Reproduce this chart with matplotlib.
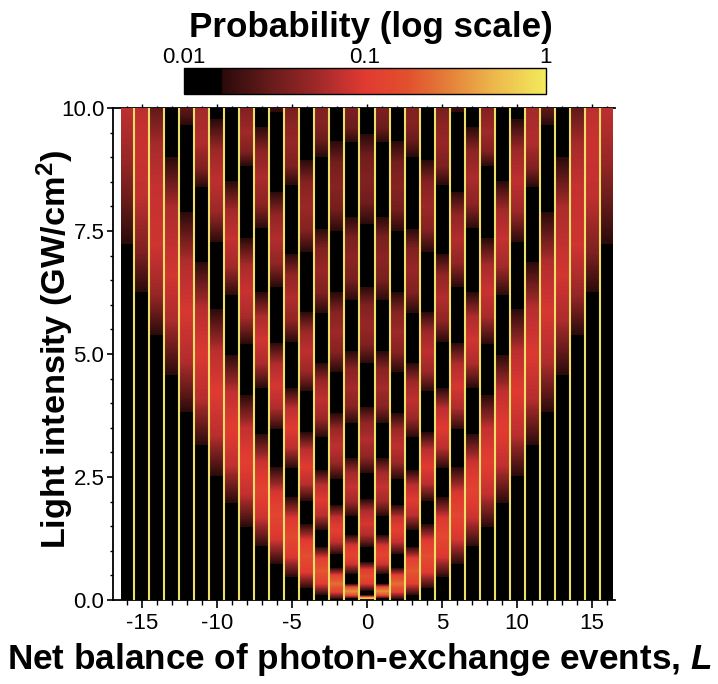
import numpy as np
import matplotlib
matplotlib.use("Agg")
import matplotlib.pyplot as plt
from matplotlib.cm import ScalarMappable
from matplotlib.colors import LinearSegmentedColormap, LogNorm, Normalize

plt.rcParams['font.family'] = ['Liberation Sans', 'DejaVu Sans']
plt.rcParams['axes.unicode_minus'] = False
plt.rcParams['mathtext.fontset'] = 'custom'
plt.rcParams['mathtext.rm'] = 'Liberation Sans'
plt.rcParams['mathtext.bf'] = 'Liberation Sans:bold'
plt.rcParams['mathtext.bfit'] = 'Liberation Sans:italic:bold'

# values: for each |L|, intensity (GW/cm2) and log10(probability)
I_0 = [0, .05, .10, .19, .33, .48, .62, .77, 1.08, 1.32, 1.56, 1.81, 2.05, 2.58, 2.92, 3.26, 3.60, 3.94,
       4.80, 5.20, 5.59, 5.98, 6.38, 7.62, 8.09, 8.56, 9.02, 9.49, 10]
P_0 = [-.02, -.35, -1.8, -1.8, -1.0, -.8, -1.0, -1.8, -1.8, -1.2, -1.05, -1.2, -1.8, -1.8, -1.32, -1.2, -1.32, -1.8,
       -1.8, -1.4, -1.3, -1.4, -1.8, -1.8, -1.48, -1.4, -1.48, -1.8, -1.8]
I_1 = [0, .03, .105, .18, .255, .33, .53, .73, .92, 1.12, 1.32, 1.71, 2.0, 2.3, 2.6, 2.89, 3.58, 3.95, 4.32, 4.69, 5.06,
       6.08, 6.51, 6.94, 7.37, 7.80, 9.29, 9.6, 10]
P_1 = [-1.8, -1.8, -.74, -.47, -.74, -1.8, -1.8, -1.08, -.9, -1.08, -1.8, -1.8, -1.26, -1.12, -1.26, -1.8, -1.8, -1.36, -1.25, -1.36, -1.8,
       -1.8, -1.44, -1.35, -1.44, -1.8, -1.8, -1.5, -1.42]
I_2 = [0, .02, .18, .33, .49, .65, .93, 1.18, 1.43, 1.68, 1.93, 2.46, 2.80, 3.13, 3.46, 3.80,
       4.63, 5.04, 5.44, 5.85, 6.26, 7.48, 7.95, 8.41, 8.88, 9.35, 10]
P_2 = [-1.8, -1.8, -.86, -.62, -.86, -1.8, -1.8, -1.12, -.95, -1.12, -1.8, -1.8, -1.28, -1.15, -1.28, -1.8,
       -1.8, -1.38, -1.27, -1.38, -1.8, -1.8, -1.46, -1.37, -1.46, -1.8, -1.8]
I_3 = [0, .10, .34, .59, .84, 1.08, 1.42, 1.72, 2.03, 2.34, 2.64, 3.31, 3.69, 4.06, 4.44, 4.82,
       5.83, 6.26, 6.70, 7.13, 7.56, 9.0, 9.35, 9.7, 10]
P_3 = [-1.8, -1.8, -.94, -.72, -.94, -1.8, -1.8, -1.16, -1.0, -1.16, -1.8, -1.8, -1.28, -1.15, -1.28, -1.8,
       -1.8, -1.4, -1.3, -1.4, -1.8, -1.8, -1.5, -1.38, -1.4]
I_4 = [0, .24, .56, .89, 1.22, 1.54, 2.01, 2.36, 2.71, 3.06, 3.41, 4.23, 4.64, 5.05, 5.46, 5.87,
       7.07, 7.54, 8.01, 8.49, 8.96, 10]
P_4 = [-1.8, -1.8, -1.0, -.8, -1.0, -1.8, -1.8, -1.16, -1.0, -1.16, -1.8, -1.8, -1.28, -1.15, -1.28, -1.8,
       -1.8, -1.38, -1.28, -1.38, -1.8, -1.8]
I_5 = [0, .47, .87, 1.28, 1.68, 2.09, 2.68, 3.09, 3.50, 3.90, 4.31, 5.24, 5.69, 6.14, 6.60, 7.05,
       8.43, 8.82, 9.3, 9.7, 10]
P_5 = [-1.8, -1.8, -1.04, -.85, -1.04, -1.8, -1.8, -1.16, -1.0, -1.16, -1.8, -1.8, -1.32, -1.2, -1.32, -1.8,
       -1.8, -1.42, -1.3, -1.36, -1.45]
I_6 = [0, .73, 1.22, 1.72, 2.21, 2.70, 3.46, 3.90, 4.35, 4.80, 5.24, 6.36, 6.85, 7.34, 7.82, 8.31, 9.90, 10]
P_6 = [-1.8, -1.8, -1.06, -.88, -1.06, -1.8, -1.8, -1.2, -1.05, -1.2, -1.8, -1.8, -1.32, -1.2, -1.32, -1.8, -1.8, -1.7]
I_7 = [0, 1.08, 1.66, 2.24, 2.81, 3.39, 4.31, 4.80, 5.28, 5.77, 6.26, 7.54, 8.06, 8.58, 9.11, 9.63, 10]
P_7 = [-1.8, -1.8, -1.1, -.92, -1.1, -1.8, -1.8, -1.22, -1.07, -1.22, -1.8, -1.8, -1.34, -1.22, -1.34, -1.8, -1.8]
I_8 = [0, 1.48, 2.15, 2.82, 3.50, 4.17, 5.20, 5.74, 6.28, 6.82, 7.36, 8.82, 9.12, 9.5, 10]
P_8 = [-1.8, -1.8, -1.13, -.96, -1.13, -1.8, -1.8, -1.24, -1.1, -1.24, -1.8, -1.8, -1.4, -1.26, -1.4]
I_9 = [0, 1.97, 2.73, 3.48, 4.24, 5.00, 6.18, 6.76, 7.35, 7.94, 8.52, 10]
P_9 = [-1.8, -1.8, -1.14, -.98, -1.14, -1.8, -1.8, -1.26, -1.12, -1.26, -1.8, -1.8]
I_10 = [0, 2.50, 3.36, 4.22, 5.07, 5.93, 7.26, 7.89, 8.52, 9.15, 9.78, 10]
P_10 = [-1.8, -1.8, -1.16, -1.0, -1.16, -1.8, -1.8, -1.28, -1.15, -1.28, -1.8, -1.8]
I_11 = [0, 3.13, 4.07, 5.01, 5.95, 6.89, 8.39, 8.79, 9.3, 10]
P_11 = [-1.8, -1.8, -1.18, -1.02, -1.18, -1.8, -1.8, -1.4, -1.2, -1.25]
I_12 = [0, 3.80, 4.83, 5.85, 6.88, 7.91, 9.63, 10]
P_12 = [-1.8, -1.8, -1.2, -1.04, -1.2, -1.8, -1.8, -1.55]
I_13 = [0, 4.55, 5.67, 6.6, 8.0, 9.02, 10]
P_13 = [-1.8, -1.8, -1.22, -1.06, -1.22, -1.8, -1.8]
I_14 = [0, 5.37, 6.2, 7.2, 8.4, 9.3, 10]
P_14 = [-1.8, -1.8, -1.3, -1.08, -1.12, -1.25, -1.55]
I_15 = [0, 6.24, 7.1, 8.2, 9.2, 10]
P_15 = [-1.8, -1.8, -1.4, -1.14, -1.1, -1.15]
I_16 = [0, 7.20, 8.0, 8.9, 10]
P_16 = [-1.8, -1.8, -1.55, -1.3, -1.15]

intensity = [I_0, I_1, I_2, I_3, I_4, I_5, I_6, I_7, I_8, I_9, I_10, I_11, I_12, I_13, I_14, I_15, I_16]
log_prob = [P_0, P_1, P_2, P_3, P_4, P_5, P_6, P_7, P_8, P_9, P_10, P_11, P_12, P_13, P_14, P_15, P_16]

x_ticks = [-15, -10, -5, 0, 5, 10, 15]
y_ticks = [0, 2.5, 5, 7.5, 10]
cbar_ticks = [0.01, 0.1, 1]
cbar_labels = ['0.01', '0.1', '1']

W, H = 718, 684

cmap = LinearSegmentedColormap.from_list('prob', [
    (0.0, '#000000'), (0.103, '#000000'), (0.106, '#2a0a0a'),
    (0.25, '#6c1c1c'), (0.35, '#962626'), (0.43, '#c03030'), (0.50, '#e03a30'),
    (0.62, '#e2502f'), (0.72, '#e47a38'), (0.85, '#ecb44a'), (1.0, '#f3ea5c')], N=512)
cmap.set_under('black')
norm = Normalize(-2, 0)
levels = np.linspace(-1.79, 0, 120)

fig = plt.figure(figsize=(W / 100, H / 100), dpi=100)
ax = fig.add_axes([112.7 / W, 1 - 600 / H, (615 - 112.7) / W, (600 - 108) / H])

for L in range(-16, 17):
    I = np.array(intensity[abs(L)])
    P = np.array(log_prob[abs(L)])
    left = max(L - 0.5, -16.4)
    right = min(L + 0.5, 16.4)
    ax.contourf([left, right], I, np.column_stack([P, P]), levels=levels,
                cmap=cmap, norm=norm, extend='min', zorder=1)

ax.vlines(np.arange(-15.5, 16), 0, 10, color='#ecdf68', lw=1.5, zorder=3)

ax.set_xlim(-16.95, 16.53)
ax.set_ylim(0, 10)
ax.set_xticks(x_ticks)
ax.set_xticks(np.arange(-16, 17), minor=True)
ax.set_yticks(y_ticks)
ax.set_yticks(np.arange(0, 10.1, 0.5), minor=True)
ax.set_yticklabels(['%.1f' % v for v in y_ticks])
ax.tick_params(axis='x', which='major', length=5.5, width=1.2, labelsize=16, pad=4)
ax.tick_params(axis='x', which='minor', length=3.5, width=1.0)
ax.tick_params(axis='y', which='major', length=4.5, width=1.2, labelsize=16, pad=1.5)
ax.tick_params(axis='y', which='minor', length=2.2, width=1.0)
ax.spines['right'].set_visible(False)
ax.spines['top'].set_zorder(0.5)
for s in ['left', 'bottom', 'top']:
    ax.spines[s].set_linewidth(1.3)

top = ax.secondary_xaxis('top')
top.set_xticks(x_ticks)
top.set_xticks(np.arange(-16, 17), minor=True)
top.set_xticklabels([])
top.tick_params(axis='x', which='major', length=3.2, width=1.0)
top.tick_params(axis='x', which='minor', length=1.6, width=1.0)
top.spines['top'].set_visible(False)

fig.text(359.5 / W, 1 - 660 / H, r'Net balance of photon-exchange events, $\mathbfit{L}$',
         ha='center', va='center', fontsize=25.3, fontweight='bold')
fig.text(55 / W, 1 - 349 / H, r'Light intensity (GW/cm$\mathbf{^2}$)', rotation=90,
         ha='center', va='center', fontsize=24.7, fontweight='bold')
fig.text(371 / W, 1 - 27 / H, 'Probability (log scale)',
         ha='center', va='center', fontsize=25.2, fontweight='bold')

cax = fig.add_axes([184 / W, 1 - 94 / H, (545.5 - 184) / W, 26 / H])
cb = fig.colorbar(ScalarMappable(norm=LogNorm(0.01, 1), cmap=cmap), cax=cax, orientation='horizontal')
cb.set_ticks(cbar_ticks, labels=cbar_labels)
cb.minorticks_off()
cax.xaxis.set_ticks_position('top')
cax.tick_params(length=0, labelsize=16, pad=0)
cb.outline.set_linewidth(1.0)

fig.savefig('out.png', dpi=100)
